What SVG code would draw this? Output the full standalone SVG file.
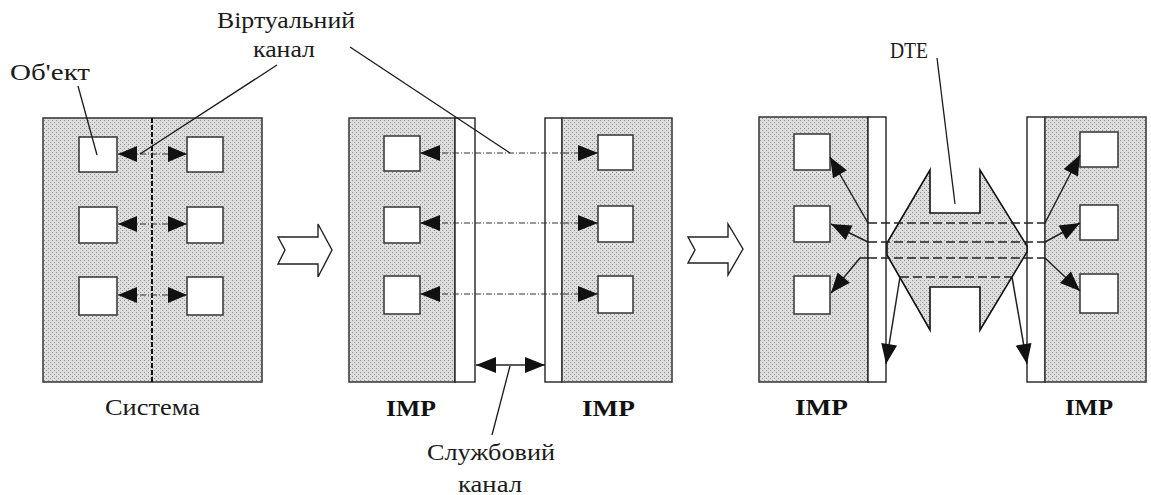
<svg xmlns="http://www.w3.org/2000/svg" width="1151" height="495" viewBox="0 0 1151 495">
  <defs>
    <!-- stippled grey used for the system / IMP panels and the DTE block -->
    <pattern id="stipple" width="4" height="4" patternUnits="userSpaceOnUse">
      <rect width="4" height="4" fill="#dddddd"/>
      <rect x="0" y="0" width="1" height="1" fill="#8f8f8f"/>
      <rect x="2" y="2" width="1" height="1" fill="#9a9a9a"/>
    </pattern>
    <!-- solid arrowheads, sized in user units -->
    <marker id="head" refX="20" refY="8" markerWidth="21" markerHeight="17"
            markerUnits="userSpaceOnUse" orient="auto-start-reverse" overflow="visible">
      <path d="M0,0 L20,8 L0,16 z" fill="#111"/>
    </marker>
    <marker id="headSm" refX="19" refY="8" markerWidth="20" markerHeight="17"
            markerUnits="userSpaceOnUse" orient="auto-start-reverse" overflow="visible">
      <path d="M0,0 L19,8 L0,16 z" fill="#111"/>
    </marker>
  </defs>
  <style>
    .panel { fill: url(#stipple); stroke: #333; stroke-width: 1.5; }
    .strip { fill: #fff; stroke: #222; stroke-width: 1.4; }
    .obj { fill: #fff; stroke: #333; stroke-width: 1.5; }
    .block { fill: #fff; stroke: #222; stroke-width: 1.4; stroke-linejoin: miter; }
    .lbl { font-family: "Liberation Serif", "DejaVu Serif", serif; font-size: 23px; fill: #1a1a1a; }
    .imp { font-family: "Liberation Serif", "DejaVu Serif", serif; font-size: 24px; font-weight: bold; fill: #111; }
    .lead { stroke: #1a1a1a; stroke-width: 1.3; fill: none; }
    .link { stroke: #333; stroke-width: 1.2; stroke-dasharray: 6 2 1 2; fill: none; }
    .dlink { stroke: #222; stroke-width: 1.5; fill: none; }
    .dash { stroke: #222; stroke-width: 1.5; stroke-dasharray: 9 4; fill: none; }
  </style>

  <rect width="1151" height="495" fill="#fff"/>

  <!-- System: one host with six objects -->
  <g id="system">
    <rect class="panel" x="43" y="118" width="219" height="264"/>
    <line x1="152" y1="118" x2="152" y2="382" stroke="#111" stroke-width="2" stroke-dasharray="5 2"/>
    <rect class="obj" x="79" y="137" width="38" height="35"/>
    <rect class="obj" x="187" y="137" width="36" height="35"/>
    <rect class="obj" x="79" y="207" width="38" height="36"/>
    <rect class="obj" x="187" y="207" width="36" height="36"/>
    <rect class="obj" x="79" y="277" width="38" height="38"/>
    <rect class="obj" x="187" y="277" width="36" height="38"/>
    <text class="lbl" x="105" y="415" textLength="95" lengthAdjust="spacingAndGlyphs">Система</text>
  </g>

  <!-- transition arrows -->
  <g id="step1">
    <path class="block" d="M278,237 L318,237 L318,224 L332,250 L318,277 L318,264 L278,264 L285,250 Z"/>
  </g>
  <g id="step2">
    <path class="block" d="M688,237 L728,237 L728,224 L743,249 L728,275 L728,263 L688,263 L695,250 Z"/>
  </g>

  <!-- Two IMPs joined by a service channel -->
  <g id="imp-a1">
    <rect class="panel" x="349" y="118" width="106" height="264"/>
    <rect class="strip" x="455" y="118" width="20" height="264"/>
    <rect class="obj" x="384" y="136" width="36" height="35"/>
    <rect class="obj" x="384" y="207" width="36" height="36"/>
    <rect class="obj" x="384" y="276" width="36" height="38"/>
    <text class="imp" x="386" y="416" textLength="50" lengthAdjust="spacingAndGlyphs">IMP</text>
  </g>
  <g id="imp-a2">
    <rect class="strip" x="545" y="118" width="17" height="264"/>
    <rect class="panel" x="562" y="118" width="110" height="264"/>
    <rect class="obj" x="598" y="135" width="35" height="35"/>
    <rect class="obj" x="598" y="206" width="35" height="36"/>
    <rect class="obj" x="598" y="276" width="35" height="37"/>
    <text class="imp" x="582" y="416" textLength="53" lengthAdjust="spacingAndGlyphs">IMP</text>
  </g>

  <!-- Two IMPs joined through the DTE -->
  <g id="imp-b1">
    <rect class="panel" x="759" y="117" width="109" height="265"/>
    <rect class="strip" x="868" y="117" width="18" height="265"/>
    <rect class="obj" x="794" y="134" width="36" height="36"/>
    <rect class="obj" x="794" y="206" width="36" height="36"/>
    <rect class="obj" x="794" y="276" width="36" height="38"/>
    <text class="imp" x="795" y="415" textLength="53" lengthAdjust="spacingAndGlyphs">IMP</text>
  </g>
  <g id="imp-b2">
    <rect class="strip" x="1027" y="117" width="18" height="265"/>
    <rect class="panel" x="1045" y="117" width="101" height="265"/>
    <rect class="obj" x="1080" y="132" width="38" height="35"/>
    <rect class="obj" x="1080" y="205" width="38" height="35"/>
    <rect class="obj" x="1080" y="274" width="38" height="39"/>
    <text class="imp" x="1065" y="415" textLength="48" lengthAdjust="spacingAndGlyphs">IMP</text>
  </g>
  <g id="dte">
    <path d="M887,243 L930,170 L930,213 L980,213 L980,170 L1027,246 L1027,252 L980,330 L980,287 L930,287 L930,330 L887,255 Z"
          fill="url(#stipple)" stroke="#111" stroke-width="1.6" stroke-linejoin="miter"/>
  </g>

  <!-- channels and links -->
  <g id="connectors">
    <!-- virtual channels inside the system -->
    <line class="link" x1="118" y1="154" x2="187" y2="154" marker-start="url(#headSm)" marker-end="url(#headSm)"/>
    <line class="link" x1="118" y1="224" x2="187" y2="224" marker-start="url(#headSm)" marker-end="url(#headSm)"/>
    <line class="link" x1="118" y1="295" x2="187" y2="295" marker-start="url(#headSm)" marker-end="url(#headSm)"/>

    <!-- virtual channels between IMPs -->
    <line class="link" x1="420" y1="153" x2="598" y2="153" marker-start="url(#head)" marker-end="url(#head)"/>
    <line class="link" x1="420" y1="223" x2="598" y2="223" marker-start="url(#head)" marker-end="url(#head)"/>
    <line class="link" x1="420" y1="294" x2="598" y2="294" marker-start="url(#head)" marker-end="url(#head)"/>
    <!-- service channel -->
    <line class="dlink" x1="476" y1="365" x2="545" y2="365" stroke-width="1" marker-start="url(#head)" marker-end="url(#head)"/>

    <!-- paths through the DTE -->
    <line class="dash" x1="868" y1="223" x2="1045" y2="223"/>
    <line class="dash" x1="868" y1="242" x2="1045" y2="242"/>
    <line class="dash" x1="868" y1="258" x2="1045" y2="258"/>
    <line class="dash" x1="900" y1="277" x2="1012" y2="277"/>

    <line class="dlink" x1="868" y1="223" x2="830" y2="157" marker-end="url(#head)"/>
    <line class="dlink" x1="868" y1="242" x2="831" y2="224" marker-end="url(#head)"/>
    <polyline class="dlink" points="868,258 860,258 831,293" marker-end="url(#head)"/>
    <line class="dlink" x1="1045" y1="223" x2="1080" y2="155" marker-end="url(#head)"/>
    <line class="dlink" x1="1045" y1="242" x2="1080" y2="223" marker-end="url(#head)"/>
    <line class="dlink" x1="1045" y1="258" x2="1080" y2="291" marker-end="url(#head)"/>
    <line class="dlink" x1="900" y1="277" x2="886" y2="364" marker-end="url(#head)"/>
    <line class="dlink" x1="1012" y1="277" x2="1027" y2="364" marker-end="url(#head)"/>
  </g>

  <!-- callouts -->
  <g id="callouts">
    <text class="lbl" x="10" y="80" textLength="80" lengthAdjust="spacingAndGlyphs">Об'ект</text>
    <line class="lead" x1="78" y1="86" x2="97" y2="155"/>
    <text class="lbl" x="217" y="28" textLength="138" lengthAdjust="spacingAndGlyphs">Віртуальний</text>
    <text class="lbl" x="253" y="57" textLength="62" lengthAdjust="spacingAndGlyphs">канал</text>
    <line class="lead" x1="277" y1="65" x2="140" y2="154"/>
    <line class="lead" x1="350" y1="47" x2="510" y2="153"/>
    <text class="lbl" x="427" y="460" textLength="128" lengthAdjust="spacingAndGlyphs">Службовий</text>
    <text class="lbl" x="458" y="492" textLength="64" lengthAdjust="spacingAndGlyphs">канал</text>
    <line class="lead" x1="492" y1="435" x2="510" y2="366"/>
    <text class="lbl" x="890" y="58" textLength="38" lengthAdjust="spacingAndGlyphs">DTE</text>
    <line class="lead" x1="937" y1="58" x2="955" y2="204"/>
  </g>
</svg>
